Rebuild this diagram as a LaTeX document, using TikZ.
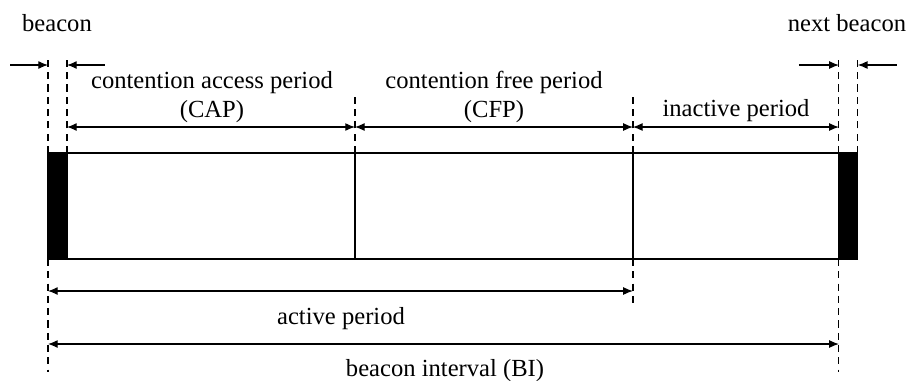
\documentclass[tikz,border=0pt]{standalone}
\usepackage{fontspec}
\setmainfont{Liberation Serif}
\usetikzlibrary{arrows.meta,positioning}
\tikzstyle{period} = [rectangle, draw, line width=0.7pt, minimum height=2.12cm, inner sep=0pt, outer sep=0pt]
\tikzstyle{beaconslot} = [period, fill=black, minimum width=0.38cm]
\tikzstyle{arrow} = [->,>={Latex[length=5.5pt,width=4.5pt]}, line width=0.6pt]
\tikzstyle{dimline} = [<->,>={Latex[length=5.5pt,width=4.5pt]}, line width=0.6pt]
\tikzstyle{guide} = [dash pattern=on 4pt off 3pt, line width=0.7pt]
\tikzstyle{txt} = [font=\fontsize{14}{16}\selectfont, inner sep=0pt, anchor=base]

\begin{document}
\begin{tikzpicture}[x=0.02cm, y=-0.02cm]
    \useasboundingbox (0,0) rectangle (906,380);
    % Place nodes
    \node [beaconslot, anchor=north west] (bcn) at (48,153) {};
    \node [period, minimum width=5.76cm, right=0pt of bcn] (cap) {};
    \node [period, minimum width=5.56cm, right=0pt of cap] (cfp) {};
    \node [period, minimum width=4.12cm, right=0pt of cfp] (idle) {};
    \node [beaconslot, right=0pt of idle] (nxt) {};

    \coordinate (top) at (0,65);
    \coordinate (row) at (0,127);
    \coordinate (act) at (0,291);
    \coordinate (bi) at (0,344);

    % dashed guides
    \draw [guide] (bcn.north west) -- ++(0,-93);
    \draw [guide] (bcn.south west) -- ++(0,113);
    \draw [guide] (bcn.north east) -- ++(0,-93);
    \draw [guide] (cap.north east) -- ++(0,-58);
    \draw [guide] (cfp.north east) -- ++(0,-58);
    \draw [guide] (cfp.south east) -- ++(0,46);
    \draw [guide] (nxt.north west) -- ++(0,-93);
    \draw [guide] (nxt.south west) -- ++(0,113);
    \draw [guide] (nxt.north east) -- ++(0,-93);

    % beacon marks
    \draw [arrow] (bcn.north west |- top) +(-38,0) -- (bcn.north west |- top);
    \draw [arrow] (bcn.north east |- top) +(38,0) -- (bcn.north east |- top);
    \draw [arrow] (nxt.north west |- top) +(-40,0) -- (nxt.north west |- top);
    \draw [arrow] (nxt.north east |- top) +(39,0) -- (nxt.north east |- top);

    % periods
    \draw [dimline] (cap.north west |- row) -- (cap.north east |- row);
    \draw [dimline] (cfp.north west |- row) -- (cfp.north east |- row);
    \draw [dimline] (idle.north west |- row) -- (idle.north east |- row);
    \draw [dimline] (bcn.north west |- act) -- (cfp.north east |- act);
    \draw [dimline] (bcn.north west |- bi) -- (nxt.north west |- bi);

    % labels
    \node [txt] (bcnlbl) at (57,31) {beacon};
    \node [txt] (nxtlbl) at (847,31) {next beacon};
    \node [txt] (caplbl) at (212,88) {contention access period};
    \node [txt] (capabbr) at (212,117) {(CAP)};
    \node [txt] (cfplbl) at (494,88) {contention free period};
    \node [txt] (cfpabbr) at (494,117) {(CFP)};
    \node [txt] (idlelbl) at (736,116) {inactive period};
    \node [txt] (actlbl) at (341,324) {active period};
    \node [txt] (bilbl) at (445,376) {beacon interval (BI)};
\end{tikzpicture}
\end{document}
